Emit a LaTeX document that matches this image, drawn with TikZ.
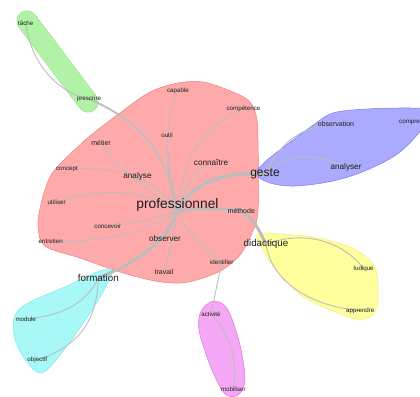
\documentclass[tikz,border=0pt]{standalone}
\usepackage{fontspec}
\setmainfont{Liberation Sans}
\pgfdeclarelayer{hulllayer}
\pgfdeclarelayer{edgelayer}
\pgfsetlayers{hulllayer,edgelayer,main}
\definecolor{txt}{HTML}{1E1E1E}
\definecolor{edgec}{HTML}{BDBDBD}
\definecolor{redf}{HTML}{FFAAAA}\definecolor{redd}{HTML}{EE7F7F}
\definecolor{grnf}{HTML}{B2F2A6}\definecolor{grnd}{HTML}{98E08A}
\definecolor{bluf}{HTML}{AAAAFF}\definecolor{blud}{HTML}{7C7CEE}
\definecolor{yelf}{HTML}{FFFF9E}\definecolor{yeld}{HTML}{F0F080}
\definecolor{cyaf}{HTML}{A8F8F8}\definecolor{cyad}{HTML}{88E8E8}
\definecolor{magf}{HTML}{F5A8F5}\definecolor{magd}{HTML}{D878D8}
\tikzset{
  word/.style={text=txt, inner sep=0pt, font=\fontsize{6.2}{7}\selectfont},
  wordmid/.style={word, font=\fontsize{7}{8}\selectfont},
  wordbig/.style={word, font=\fontsize{8.2}{9}\selectfont},
  wordhuge/.style={word, font=\fontsize{9.8}{11}\selectfont},
  edge/.style={draw=edgec, line width=0.9pt},
  thickedge/.style={draw=edgec, line width=3pt},
  hull/.style={line width=0.5pt, smooth cycle, tension=0.55}
}
\begin{document}
\begin{tikzpicture}[x=1pt,y=-1pt]
\useasboundingbox (0,0) rectangle (420,396);
% nodes
\node[word] (tache) at (25.7,23) {tâche};
\node[word] (prescrire) at (89,99) {prescrire};
\node[word] (capable) at (178,91) {capable};
\node[word] (competence) at (243.5,108.5) {compétence};
\node[word] (outil) at (167,135) {outil};
\node[wordmid] (metier) at (101,142.5) {métier};
\node[wordbig] (connaitre) at (211,162.5) {connaître};
\node[word] (concept) at (67,169) {concept};
\node[wordbig] (analyse) at (137.5,176.5) {analyse};
\node[word, font=\fontsize{12}{13}\selectfont] (geste) at (265,174) {geste};
\node[wordmid] (observation) at (336,124.3) {observation};
\node[word, anchor=west] (comprendre) at (399,122) {comprendre};
\node[wordbig] (analyser) at (346,167.5) {analyser};
\node[word, font=\fontsize{13.8}{15}\selectfont] (professionnel) at (177.5,205) {professionnel};
\node[wordmid] (methode) at (241.3,211) {méthode};
\node[word] (utiliser) at (56.7,202.7) {utiliser};
\node[word] (concevoir) at (107.7,226) {concevoir};
\node[word] (entretien) at (50.7,241.7) {entretien};
\node[wordbig] (observer) at (165,238.3) {observer};
\node[wordhuge] (didactique) at (266,244.3) {didactique};
\node[word] (identifier) at (221.7,262.3) {identifier};
\node[wordmid] (travail) at (164,271.7) {travail};
\node[wordhuge] (formation) at (98.3,278.3) {formation};
\node[word] (ludique) at (363.7,268.7) {ludique};
\node[word] (apprendre) at (360.3,310.7) {apprendre};
\node[word] (module) at (25.7,319) {module};
\node[word] (objectif) at (37.3,360.3) {objectif};
\node[word] (activite) at (211,314) {activité};
\node[word] (mobiliser) at (233.3,389) {mobiliser};
\coordinate (hub) at (177,211);

\begin{pgfonlayer}{hulllayer}
% red
\draw[hull, fill=redf, draw=redd] plot coordinates {(120,113) (150,92) (178,83) (203,82) (228,90) (248,100) (256,115) (258,140) (258,210) (252,233) (240,255) (222,270) (200,279) (180,283) (155,281) (120,272) (80,258) (45,246) (38,225) (42,200) (50,177) (62,162) (90,136)};
% green capsule
\draw[grnd, line width=21pt, line cap=round] (27,21) -- (88,102);
\draw[grnf, line width=20pt, line cap=round] (27,21) -- (88,102);
% blue
\draw[hull, fill=bluf, draw=blud] plot coordinates {(256,174) (270,183) (295,186) (333,181) (367,170) (400,152) (428,122) (432,110) (410,108) (367,109) (333,113) (312,126) (285,146) (265,162)};
% yellow
\draw[hull, fill=yelf, draw=yeld] plot coordinates {(257,238) (263,233) (280,234) (313,237) (345,245) (365,256) (376,270) (378,300) (372,316) (355,319) (330,310) (305,298) (288,283) (270,262)};
% cyan
\draw[hull, fill=cyaf, draw=cyad] plot coordinates {(112,270) (97,272) (67,286) (30,302) (15,315) (14,335) (22,355) (37,372) (48,369) (70,342) (90,313) (104,290)};
% magenta
\draw[hull, fill=magf, draw=magd] plot coordinates {(204,307) (215,301) (228,310) (240,345) (245,380) (238,395) (225,394) (212,370) (200,335) (199,318)};
\end{pgfonlayer}

\begin{pgfonlayer}{edgelayer}
\draw[edge] (tache.center) .. controls (30,60) and (55,92) .. (prescrire.center);
\draw[edge, line width=1.8pt] (prescrire.center) .. controls (150,125) and (170,165) .. (hub);
\draw[edge] (capable.center) .. controls (165,115) and (163,170) .. (hub);
\draw[edge] (outil.center) .. controls (168,160) .. (hub);
\draw[edge] (competence.center) .. controls (200,128) and (183,160) .. (hub);
\draw[edge] (connaitre.center) .. controls (192,175) .. (hub);
\draw[edge] (metier.center) .. controls (115,168) and (150,190) .. (hub);
\draw[edge] (concept.center) .. controls (130,165) and (160,185) .. (hub);
\draw[edge] (analyse.center) .. controls (160,190) .. (hub);
\draw[edge] (utiliser.center) .. controls (110,183) and (155,195) .. (hub);
\draw[edge] (concevoir.center) .. controls (140,222) .. (hub);
\draw[edge] (entretien.center) .. controls (120,242) and (160,225) .. (hub);
\draw[edge] (observer.center) .. controls (170,225) .. (hub);
\draw[edge] (travail.center) .. controls (172,245) .. (hub);
\draw[edge] (identifier.center) .. controls (192,238) .. (hub);
\draw[thickedge] (hub) .. controls (210,208) .. (methode.center);
\draw[thickedge] (methode.center) .. controls (255,222) .. (didactique.center);
\draw[edge, line width=3.5pt] (hub) .. controls (195,180) and (225,172) .. (geste.center);
\draw[thickedge] (hub) .. controls (165,245) and (135,262) .. (formation.center);
\draw[edge] (formation.center) .. controls (85,305) and (60,316) .. (module.center);
\draw[edge] (formation.center) .. controls (97,325) and (75,347) .. (objectif.center);
\draw[edge] (geste.center) .. controls (285,152) and (315,152) .. (analyser.center);
\draw[edge] (geste.center) .. controls (280,143) and (300,126) .. (observation.center);
\draw[edge] (didactique.center) .. controls (300,231) and (340,238) .. (ludique.center);
\draw[edge] (didactique.center) .. controls (272,282) and (310,306) .. (apprendre.center);
\draw[edge] (identifier.center) -- (activite.center);
\draw[edge] (activite.center) .. controls (235,338) and (237,370) .. (mobiliser.center);
\end{pgfonlayer}
\end{tikzpicture}
\end{document}
